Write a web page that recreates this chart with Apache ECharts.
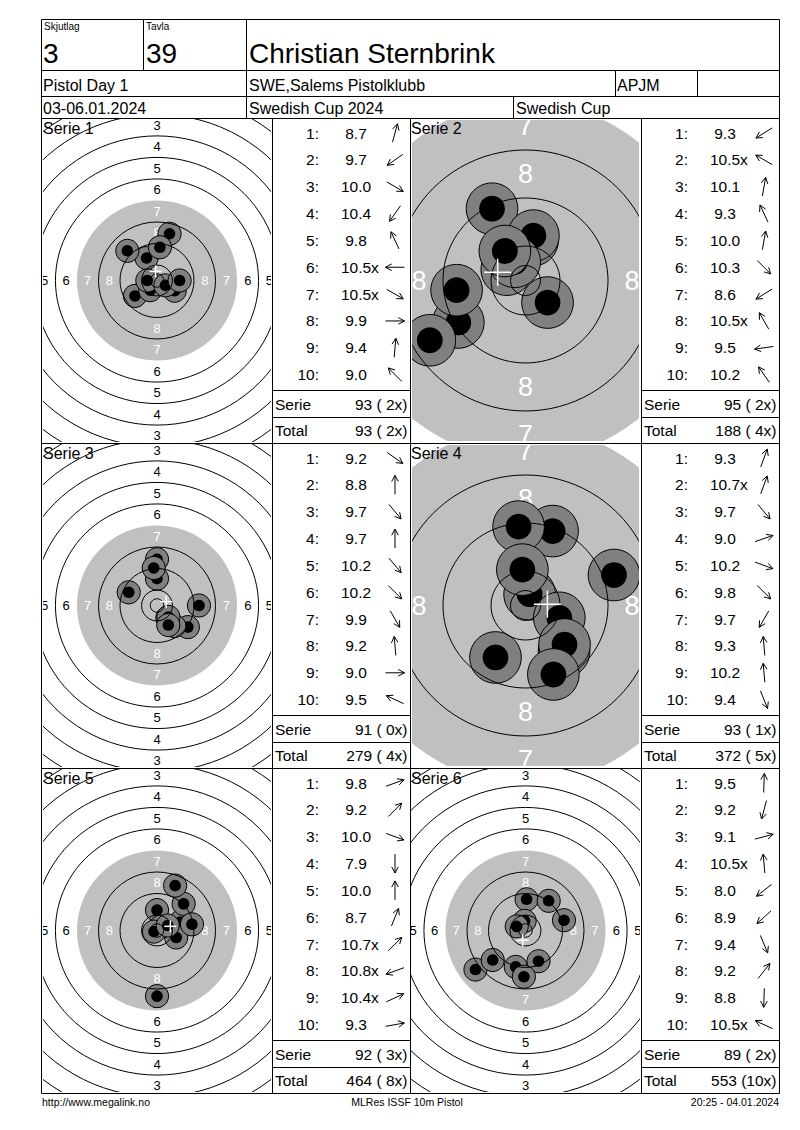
<!DOCTYPE html>
<html><head><meta charset="utf-8">
<script src="https://cdn.jsdelivr.net/npm/echarts@6/dist/echarts.min.js"></script>
<style>html,body{margin:0;padding:0;background:#fff}#c{width:800px;height:1130px}</style>
</head><body><div id="c"></div>
<script>
// ---------- data read from the score card ----------
const HEADER_LABELS = ['Skjutlag', 'Tavla'];
const HEADER_TOP = ['3', '39', 'Christian Sternbrink'];
const HEADER_ROW2 = ['Pistol Day 1', 'SWE,Salems Pistolklubb', 'APJM', ''];
const HEADER_ROW3 = ['03-06.01.2024', 'Swedish Cup 2024', 'Swedish Cup'];
const FOOTER = ['http://www.megalink.no', 'MLRes ISSF 10m Pistol', '20:25 - 04.01.2024'];

const SERIES_NAMES = ['Serie 1', 'Serie 2', 'Serie 3', 'Serie 4', 'Serie 5', 'Serie 6'];

const S1_SCORES = ['8.7','9.7','10.0','10.4','9.8','10.5x','10.5x','9.9','9.4','9.0'];
const S2_SCORES = ['9.3','10.5x','10.1','9.3','10.0','10.3','8.6','10.5x','9.5','10.2'];
const S3_SCORES = ['9.2','8.8','9.7','9.7','10.2','10.2','9.9','9.2','9.0','9.5'];
const S4_SCORES = ['9.3','10.7x','9.7','9.0','10.2','9.8','9.7','9.3','10.2','9.4'];
const S5_SCORES = ['9.8','9.2','10.0','7.9','10.0','8.7','10.7x','10.8x','10.4x','9.3'];
const S6_SCORES = ['9.5','9.2','9.1','10.5x','8.0','8.9','9.4','9.2','8.8','10.5x'];

// direction of each shot from the centre (degrees, 0 = right, 90 = up), read from the arrows
const S1_DIRS = [75, 215, 330, 235, 115, 180, 330, 0, 85, 135];
const S2_DIRS = [212, 150, 80, 115, 80, 315, 212, 120, 188, 125];
const S3_DIRS = [325, 90, 310, 90, 310, 315, 300, 95, 0, 155];
const S4_DIRS = [70, 70, 310, 19, 340, 315, 240, 95, 95, 292];
const S5_DIRS = [20, 45, 340, 270, 90, 68, 45, 200, 25, 10];
const S6_DIRS = [88, 255, 15, 95, 218, 222, 293, 52, 268, 155];

const SERIE_SUMS = ['93 ( 2x)', '95 ( 2x)', '91 ( 0x)', '93 ( 1x)', '92 ( 3x)', '89 ( 2x)'];
const RUNNING_TOTALS = ['93 ( 2x)', '188 ( 4x)', '279 ( 4x)', '372 ( 5x)', '464 ( 8x)', '553 (10x)'];

// ISSF 10 m air pistol target (mm): ring numbers and outer radii
const RING_NUMBERS = [1, 2, 3, 4, 5, 6, 7, 8, 9, 10];
const RING_RADII = [77.75, 69.75, 61.75, 53.75, 45.75, 37.75, 29.75, 21.75, 13.75, 5.75];
const INNER_TEN_RADIUS = 2.5;
const LABELLED_RINGS = [1, 2, 3, 4, 5, 6, 7, 8];

// ---------- layout / style ----------
const FONT = '"Liberation Sans", Arial, sans-serif';
const ZOOMED = [false, true, false, true, false, false];
const ROW_Y = [118, 443, 768];
const PANEL_H = 325;
const TARGET_X = [42, 410], TARGET_W = [230, 231];
const TABLE_X = [272, 641], TABLE_W = 138;
const SHOT_OUTER_MM = 4.3, SHOT_INNER_MM = 2.15, CROSS_MM = 2.25;

const ALL_SCORES = [S1_SCORES, S2_SCORES, S3_SCORES, S4_SCORES, S5_SCORES, S6_SCORES];
const ALL_DIRS = [S1_DIRS, S2_DIRS, S3_DIRS, S4_DIRS, S5_DIRS, S6_DIRS];

// decimal score -> distance of shot centre from target centre (mm)
function shotXY(score, dir) {
  const s = parseFloat(score);
  const d = Math.max(0, 8 * (10.95 - s));
  const a = dir * Math.PI / 180;
  return [d * Math.cos(a), d * Math.sin(a)];
}

const g = [];
function line(x1, y1, x2, y2) {
  g.push({type: 'line', shape: {x1, y1, x2, y2}, style: {stroke: '#000', lineWidth: 1}, z: 100, silent: true});
}
function txt(x, y, s, size, align, color) {
  g.push({type: 'text', x, y, z: 101, silent: true,
    style: {text: s, fill: color || '#000', font: size + 'px ' + FONT,
      textAlign: align || 'left', align: align || 'left',
      textVerticalAlign: 'middle', verticalAlign: 'middle'}});
}
function arrow(cx, cy, deg) {
  const a = deg * Math.PI / 180, L = 19, hl = 7, ha = 28 * Math.PI / 180;
  const ux = Math.cos(a), uy = -Math.sin(a);
  const tx = cx + ux * L / 2, ty = cy + uy * L / 2, bx = cx - ux * L / 2, by = cy - uy * L / 2;
  const h1 = [tx - hl * Math.cos(a - ha), ty + hl * Math.sin(a - ha)];
  const h2 = [tx - hl * Math.cos(a + ha), ty + hl * Math.sin(a + ha)];
  g.push({type: 'line', shape: {x1: bx, y1: by, x2: tx, y2: ty}, style: {stroke: '#000', lineWidth: 1}, z: 100, silent: true});
  g.push({type: 'polyline', shape: {points: [h1, [tx, ty], h2]}, style: {stroke: '#000', fill: 'none', lineWidth: 1}, z: 100, silent: true});
}

// ---------- frame ----------
const X0 = 41.5, X1 = 779.5, Y0 = 19.5, Y1 = 1093.5;
line(X0, Y0, X1, Y0); line(X0, Y1, X1, Y1); line(X0, Y0, X0, Y1); line(X1, Y0, X1, Y1);
line(X0, 70.5, X1, 70.5); line(X0, 96.5, X1, 96.5); line(X0, 118.5, X1, 118.5);
line(143.5, Y0, 143.5, 70.5); line(246.5, Y0, 246.5, 118.5);
line(615.5, 70.5, 615.5, 96.5); line(697.5, 70.5, 697.5, 96.5);
line(513.5, 96.5, 513.5, 118.5);
line(X0, 443.5, X1, 443.5); line(X0, 768.5, X1, 768.5);
line(272.5, 118.5, 272.5, Y1); line(410.5, 118.5, 410.5, Y1); line(641.5, 118.5, 641.5, Y1);

// ---------- header text ----------
txt(44, 26, HEADER_LABELS[0], 10); txt(146, 26, HEADER_LABELS[1], 10);
txt(43, 53, HEADER_TOP[0], 28); txt(146, 53, HEADER_TOP[1], 28); txt(249, 53, HEADER_TOP[2], 28);
txt(43, 85.5, HEADER_ROW2[0], 16); txt(249, 85.5, HEADER_ROW2[1], 16); txt(617, 85.5, HEADER_ROW2[2], 16);
if (HEADER_ROW2[3]) txt(700, 85.5, HEADER_ROW2[3], 16);
txt(43, 108, HEADER_ROW3[0], 16); txt(249, 108, HEADER_ROW3[1], 16); txt(516, 108, HEADER_ROW3[2], 16);
txt(42, 1102, FOOTER[0], 10.5); txt(407, 1102, FOOTER[1], 10.5, 'center'); txt(779, 1102, FOOTER[2], 10.5, 'right');

// ---------- targets + tables ----------
const grids = [], xAxes = [], yAxes = [], series = [];
for (let i = 0; i < 6; i++) {
  const row = Math.floor(i / 2), col = i % 2;
  const T = ROW_Y[row], L = TARGET_X[col], W = TARGET_W[col];
  const zoom = ZOOMED[i], s = zoom ? 6.0 : 2.69, inset = zoom ? 2 : 1;
  const labelSize = zoom ? 27 : 13;
  const gw = W - 2 * inset, gh = PANEL_H - 2 * inset;
  const hx = gw / 2 / s, hy = gh / 2 / s;
  grids.push({left: L + inset, top: T + inset, width: gw, height: gh, show: false});
  xAxes.push({type: 'value', gridIndex: i, min: -hx, max: hx, show: false});
  yAxes.push({type: 'value', gridIndex: i, min: -hy, max: hy, show: false});

  const shots = ALL_SCORES[i].map((sc, k) => shotXY(sc, ALL_DIRS[i][k]));
  const mx = shots.reduce((a, p) => a + p[0], 0) / shots.length;
  const my = shots.reduce((a, p) => a + p[1], 0) / shots.length;
  const base = {type: 'custom', xAxisIndex: i, yAxisIndex: i, clip: true, silent: true, animation: false};

  // aiming area (ring 7 and inside) in grey
  series.push(Object.assign({}, base, {z: 1, data: [[0, 0, RING_RADII[6]]],
    renderItem: (p, api) => {
      const c = api.coord([0, 0]), r = api.size([api.value(2), 0])[0];
      return {type: 'circle', shape: {cx: c[0], cy: c[1], r}, style: {fill: '#c0c0c0'}};
    }}));
  // ring numbers (only those at least partly inside the panel)
  const labData = [];
  const mgx = labelSize * 0.3 / s, mgy = labelSize * 0.45 / s;
  LABELLED_RINGS.forEach(n => {
    const d = RING_RADII[n - 1] - 4;
    if (d < hy + mgy) labData.push([0, d, n], [0, -d, n]);
    if (d < hx + mgx) labData.push([-d, 0, n], [d, 0, n]);
  });
  series.push(Object.assign({}, base, {z: 2, data: labData,
    renderItem: (p, api) => {
      const c = api.coord([api.value(0), api.value(1)]), n = api.value(2);
      return {type: 'text', x: c[0], y: c[1], style: {text: String(n), fill: n >= 7 ? '#fff' : '#000',
        font: labelSize + 'px ' + FONT, textAlign: 'center', align: 'center',
        textVerticalAlign: 'middle', verticalAlign: 'middle'}};
    }}));
  // shots
  series.push(Object.assign({}, base, {z: 3, data: shots.map((p, k) => [p[0], p[1], k]),
    renderItem: (p, api) => {
      const c = api.coord([api.value(0), api.value(1)]);
      const ro = api.size([SHOT_OUTER_MM, 0])[0], ri = api.size([SHOT_INNER_MM, 0])[0];
      return {type: 'group', children: [
        {type: 'circle', shape: {cx: c[0], cy: c[1], r: ro}, style: {fill: '#808080', stroke: '#000', lineWidth: 1}},
        {type: 'circle', shape: {cx: c[0], cy: c[1], r: ri}, style: {fill: '#000'}}
      ]};
    }}));
  // ring lines
  const ringData = RING_RADII.filter((r, k) => RING_NUMBERS[k] !== 7).map(r => [0, 0, r]);
  ringData.push([0, 0, INNER_TEN_RADIUS]);
  series.push(Object.assign({}, base, {z: 4, data: ringData,
    renderItem: (p, api) => {
      const c = api.coord([0, 0]), r = api.size([api.value(2), 0])[0];
      return {type: 'circle', shape: {cx: c[0], cy: c[1], r}, style: {fill: 'none', stroke: '#000', lineWidth: 1}};
    }}));
  // group centre cross
  series.push(Object.assign({}, base, {z: 5, data: [[mx, my]],
    renderItem: (p, api) => {
      const c = api.coord([api.value(0), api.value(1)]), h = api.size([CROSS_MM, 0])[0];
      return {type: 'group', children: [
        {type: 'line', shape: {x1: c[0] - h, y1: c[1], x2: c[0] + h, y2: c[1]}, style: {stroke: '#fff', lineWidth: 1.5}},
        {type: 'line', shape: {x1: c[0], y1: c[1] - h, x2: c[0], y2: c[1] + h}, style: {stroke: '#fff', lineWidth: 1.5}}
      ]};
    }}));

  txt(L + 1, T + 10.5, SERIES_NAMES[i], 16);

  // table
  const x0 = TABLE_X[col];
  line(x0, T + 272.5, x0 + TABLE_W, T + 272.5);
  line(x0, T + 299.5, x0 + TABLE_W, T + 299.5);
  ALL_SCORES[i].forEach((sc, k) => {
    const y = T + 15 + 26.85 * k;
    txt(x0 + 47, y, (k + 1) + ':', 15.5, 'right');
    const isX = sc.endsWith('x');
    const num = isX ? sc.slice(0, -1) : sc;
    txt(x0 + 84, y, num, 15.5, 'center');
    if (isX) txt(x0 + 84 + 15, y, 'x', 15.5, 'left');
    arrow(x0 + 123, y, ALL_DIRS[i][k]);
  });
  txt(x0 + 3, T + 286, 'Serie', 15.5); txt(x0 + 135.5, T + 286, SERIE_SUMS[i], 15.5, 'right');
  txt(x0 + 3, T + 312, 'Total', 15.5); txt(x0 + 135.5, T + 312, RUNNING_TOTALS[i], 15.5, 'right');
}

const chart = echarts.init(document.getElementById('c'), null, {renderer: 'svg', width: 800, height: 1130});
chart.setOption({
  backgroundColor: '#fff', animation: false,
  grid: grids, xAxis: xAxes, yAxis: yAxes, series: series, graphic: {elements: g}
});
</script></body></html>
